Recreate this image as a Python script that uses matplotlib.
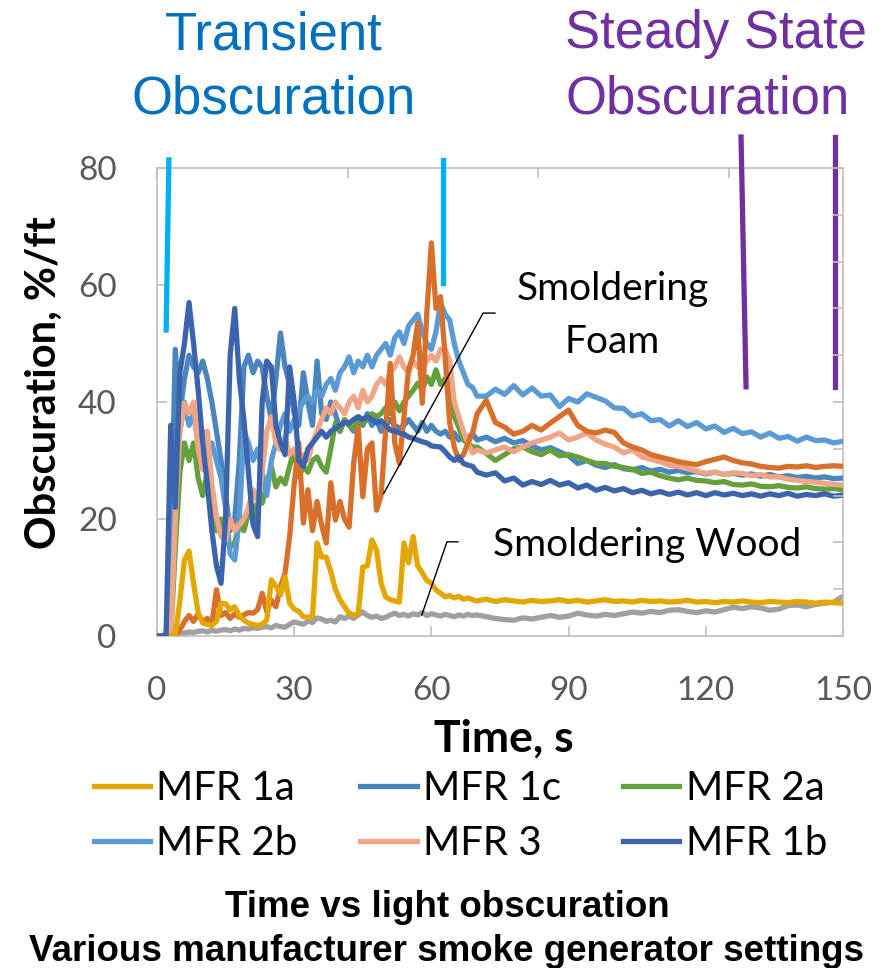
import matplotlib
matplotlib.use('agg')
import matplotlib.pyplot as plt
from matplotlib.lines import Line2D

# sample times, s (1 s steps during the transient part, 2 s after)
time_s = list(range(0, 71)) + list(range(72, 151, 2))

mfr_1a = [0, 0, 0, 0, 0.2, 6, 13, 14.5, 9, 4,
          2.2, 2, 1.8, 2.5, 5.6, 5.5, 4.5, 5, 3.5, 2.7,
          2.2, 2, 1.8, 2, 2.7, 9.6, 8.5, 7, 10.1, 5.6,
          4.6, 4.2, 3.3, 3.2, 3.4, 15.9, 13.5, 13.5, 11, 8,
          6.2, 5, 3.9, 3.6, 3.8, 11.8, 12, 16.4, 14.7, 9,
          6.7, 6.2, 6, 5.8, 15.9, 12.5, 17, 12, 10.8, 9.5,
          9, 7.9, 7.3, 6.7, 6.9, 6.5, 6.8, 6.3, 6.5, 6.2,
          6.0,
          6.3, 5.9, 6.2, 6.0, 5.8, 6.1, 5.9, 6.0, 6.2, 5.9,
          6.1, 5.8, 6.0, 6.2, 5.9, 6.0, 5.8, 6.1, 5.9, 6.0,
          5.8, 5.9, 6.1, 5.8, 5.9, 5.7, 5.9, 5.8, 6.0, 5.8,
          5.7, 5.9, 5.8, 5.7, 5.9, 5.8, 5.6, 5.8, 5.7, 5.6]

mfr_1c = [0, 0, 0, 15, 49, 38, 44, 48, 46, 45,
          47, 44, 40, 35, 30, 24, 18, 20, 30, 46,
          48, 45, 47, 46, 41, 37, 44, 51.8, 46, 43,
          38, 36, 45, 40, 36, 47, 38, 37, 40, 38,
          35, 37, 36, 35, 37, 36, 38, 36, 37, 35,
          36, 37, 36, 35.5, 36, 37, 36, 35, 36.5, 35,
          36, 35, 34.5, 35, 34, 34.7, 33.5, 34.5, 33.8, 34.6,
          33.5,
          34.0, 33.2, 33.8, 33.0, 33.4, 32.5, 31.8, 32.2, 31.5, 30.8,
          29.5, 30.0, 29.2, 28.8, 29.3, 28.6, 28.4, 28.8, 28.2, 28.5,
          28.0, 28.3, 27.9, 28.1, 27.7, 28.0, 27.6, 27.8, 27.5, 27.7,
          27.3, 27.6, 27.2, 27.4, 27.1, 27.3, 27.0, 27.2, 26.9, 27.0]

mfr_2a = [0, 0, 0, 0, 15, 28, 33, 30, 33, 27,
          24, 28, 22, 18, 20, 17, 15.2, 16, 19, 18,
          21, 20, 23, 22.7, 26, 29, 25.5, 27, 26, 29,
          31.8, 27.2, 29, 28, 30, 30.6, 29, 28, 32, 36.4,
          35, 37, 36, 35.5, 37, 36.4, 37, 38, 37.5, 38,
          39, 38, 40, 38.5, 40, 41, 42, 43.2, 42, 44.3,
          43, 45.5, 43, 44, 42.6, 37.5, 35.7, 33.5, 33, 32.3,
          32.3,
          31.2, 30.0, 31.0, 32.0, 32.3, 31.5, 31.0, 31.8, 30.8, 31.0,
          30.6, 30.0, 29.5, 29.5, 29.0, 28.8, 28.5, 27.8, 28.0, 27.4,
          27.0, 26.7, 27.0, 26.6, 26.5, 26.2, 26.4, 25.9, 25.8, 26.0,
          25.6, 25.5, 25.7, 25.4, 25.3, 25.5, 25.2, 25.1, 25.2, 25.0]

mfr_2b = [0, 0, 0, 10, 30, 35, 40, 36, 38, 33,
          35, 31, 33, 30, 27, 22, 14, 13, 20, 35,
          33, 30, 32, 28, 24, 30, 33, 36, 38, 35,
          37, 38.6, 40, 41, 40, 42, 41, 43, 44, 42,
          45, 46, 47.7, 45, 47, 46, 48, 46, 48, 49,
          50, 48, 51, 52, 50, 53, 54, 55, 52, 50,
          49, 52, 57, 55, 54, 50, 47, 45, 43, 42.5,
          41,
          41, 42.2, 41.3, 42.8, 41.2, 42.4, 41.0, 41.2, 39.2, 40.6,
          40.0, 41.4, 40.8, 40.2, 39.0, 38.9, 37.6, 38.0, 36.8, 37.0,
          35.9, 36.8, 35.8, 36.5, 35.4, 35.9, 34.8, 35.5, 34.6, 34.9,
          34.0, 34.7, 33.8, 34.1, 33.3, 34.0, 33.4, 33.5, 33.0, 33.3]

mfr_3 = [0, 0, 0, 0, 20, 35, 39.8, 38, 40, 32,
         28.4, 35, 26, 20.3, 17, 16.4, 20, 18, 19, 20,
         22, 25, 23, 28, 35, 37.5, 33, 31.8, 34, 31,
         32, 29.5, 31, 30, 33, 35, 37, 39, 38, 40,
         39, 38, 40, 41, 39, 42, 40, 41, 43, 44,
         43, 45, 46, 47.7, 46, 45, 47, 46, 45.5, 47,
         48, 47, 49, 49, 47, 40, 37.5, 35, 33, 31.3,
         31.8,
         31.3, 31.8, 32.3, 31.5, 32.3, 33.0, 33.5, 34.0, 34.7, 33.5,
         34.0, 34.7, 33.5, 32.8, 32.3, 31.3, 31.8, 30.6, 30.2, 29.8,
         29.2, 29.0, 28.6, 28.2, 27.8, 28.0, 27.6, 27.9, 27.8, 27.4,
         27.6, 27.2, 27.2, 26.8, 26.6, 26.4, 26.3, 26.1, 25.9, 25.8]

mfr_1b = [0, 0, 0.3, 36, 22, 45, 50, 57, 50, 42,
          33, 26, 18, 12, 9, 20, 48, 56, 44, 37,
          28, 19, 17, 40, 47, 46, 36, 33, 31, 46,
          40, 30, 29, 32, 33, 34, 35, 34, 35, 35.5,
          36, 36.5, 36.4, 37, 37.5, 37, 37.5, 37, 36.5, 36.8,
          36, 35.2, 35, 34.7, 34.5, 34, 33.8, 33.5, 33.2, 33,
          32.5, 32.4, 32.3, 31.5, 30.6, 30, 30.6, 29.5, 29.2, 29,
          28,
          27.5, 27.9, 26.5, 27.0, 25.8, 26.4, 25.9, 26.6, 25.8, 26.2,
          25.3, 25.8, 24.9, 25.4, 24.8, 25.2, 24.5, 24.9, 24.3, 24.7,
          24.2, 24.6, 24.1, 24.5, 24.0, 24.5, 24.1, 24.4, 24.0, 24.3,
          23.9, 24.3, 24.0, 24.4, 23.9, 24.2, 24.0, 24.3, 23.9, 24.1]

# reference runs (not in the legend)
smoldering_foam = [0, 0, 0, 0, 0, 1.0, 2.5, 3.5, 2.5, 3.8,
                   2.5, 3.0, 2.0, 7.9, 3.5, 4.0, 3.0, 3.8, 3.2, 3.6,
                   4.0, 3.9, 4.5, 7.3, 4.2, 6.1, 5.0, 8.4, 10.8, 17.0,
                   26.0, 33.0, 19.3, 25.0, 18.0, 23.0, 19.0, 15.9, 26.2, 19.8,
                   23.0, 20.0, 18.6, 29.5, 35.7, 23.8, 32.0, 33.0, 21.5, 24.0,
                   35.2, 46.6, 33.0, 29.5, 37.5, 45.5, 48.0, 53.5, 39.8, 55.2,
                   67.2, 56.0, 58.0, 47.7, 36.4, 32.3, 30.0, 31.0, 33.0, 34.7,
                   38.0,
                   40.3, 36.5, 35.7, 34.5, 35.0, 36.0, 35.2, 36.4, 37.5, 38.6,
                   36.0, 35.0, 34.7, 35.2, 34.8, 33.0, 32.3, 31.8, 31.0, 30.6,
                   30.2, 29.8, 29.5, 29.3, 29.8, 30.2, 30.6, 30.0, 29.6, 29.4,
                   29.0, 28.8, 28.7, 29.0, 28.9, 29.1, 28.8, 29.0, 29.1, 29.0]

smoldering_wood = [0, 0, 0, 0, 0, 0.2, 0.5, 0.7, 0.6, 0.8,
                   0.9, 0.7, 1.0, 0.8, 1.0, 1.1, 0.9, 1.2, 1.0, 1.3,
                   1.2, 1.4, 1.3, 1.5, 1.6, 1.4, 1.8, 1.6, 1.5, 2.0,
                   2.4, 2.2, 2.0, 2.6, 2.3, 3.1, 2.9, 2.5, 2.7, 2.4,
                   3.3, 3.0, 3.4, 3.0, 3.6, 4.1, 3.5, 3.2, 3.4, 3.0,
                   3.2, 3.6, 3.9, 3.5, 3.7, 3.4, 3.8, 3.6, 4.0, 3.5,
                   3.8, 3.6, 3.4, 3.7, 3.5, 3.3, 3.6, 3.4, 3.7, 3.5,
                   3.6,
                   3.3, 3.0, 2.8, 2.7, 3.1, 2.9, 3.2, 3.5, 3.2, 3.4,
                   3.9, 3.6, 3.4, 3.7, 3.5, 3.8, 4.1, 3.9, 4.2, 4.0,
                   4.4, 4.5, 4.2, 4.0, 4.3, 4.1, 4.5, 4.9, 4.7, 5.0,
                   4.8, 4.4, 4.6, 5.2, 5.3, 5.0, 5.4, 5.6, 5.8, 6.8]

x_ticks = [0, 30, 60, 90, 120, 150]
y_ticks = [0, 20, 40, 60, 80]

GRID = '#BFBFBF'
TICK_TXT = '#595959'
LW = 3.8


def fx(px):
    return px / 887.0


def fy(py):
    return 1 - py / 968.0


fig = plt.figure(figsize=(8.87, 9.68), dpi=100)
ax = fig.add_axes([fx(157), fy(636), fx(843) - fx(157), fy(168) - fy(636)])

ax.plot(time_s, smoldering_wood, color='#A0A0A0', lw=LW, zorder=2)
ax.plot(time_s, mfr_1c, color='#4A85BF', lw=LW, zorder=3)
ax.plot(time_s, mfr_2a, color='#64A03C', lw=LW, zorder=3)
ax.plot(time_s, mfr_2b, color='#5B9BD5', lw=LW, zorder=3)
ax.plot(time_s, mfr_3, color='#F0A586', lw=LW, zorder=3)
ax.plot(time_s, smoldering_foam, color='#D86F2B', lw=LW, zorder=4)
ax.plot(time_s, mfr_1a, color='#E4A600', lw=LW, zorder=5)
ax.plot(time_s, mfr_1b, color='#3B64AD', lw=LW, zorder=6)

ax.set_xlim(0, 150)
ax.set_ylim(0, 80)
ax.set_xticks(x_ticks)
ax.set_yticks(y_ticks)
for s in ax.spines.values():
    s.set_color(GRID)
    s.set_linewidth(1.2)
ax.tick_params(direction='in', length=7, width=1.2, color=GRID,
               labelsize=24, labelcolor=TICK_TXT, pad=29)
for lab in ax.get_xticklabels() + ax.get_yticklabels():
    lab.set_family('Lato')

# secondary axes ticks (no labels)
ax_r = ax.twinx()
ax_r.set_ylim(0, 100)
ax_r.set_yticks(range(0, 101, 10))
ax_r.tick_params(direction='in', length=7, width=1.2, color=GRID, labelright=False)
ax_t = ax.twiny()
ax_t.set_xlim(0, 180)
ax_t.set_xticks([0, 50, 100, 150])
ax_t.tick_params(direction='in', length=7, width=1.2, color=GRID, labeltop=False)
for a in (ax_r, ax_t):
    for s in a.spines.values():
        s.set_visible(False)

# phase markers
ax.add_line(Line2D([2.6, 2.0], [81.4, 52.3], color='#00B0F0', lw=3.8, clip_on=False, zorder=7))
ax.add_line(Line2D([62.5, 62.5], [81.4, 60.3], color='#00B0F0', lw=3.8, clip_on=False, zorder=7))
ax.add_line(Line2D([127.7, 128.8], [85.3, 42.6], color='#7030A0', lw=3.8, clip_on=False, zorder=7))
ax.add_line(Line2D([148.2, 148.2], [85.3, 42.6], color='#7030A0', lw=3.8, clip_on=False, zorder=7))

# leader lines
ax.add_line(Line2D([49.6, 71.3, 73.9], [24.4, 55.2, 55.2], color='black', lw=1.0, zorder=8))
ax.add_line(Line2D([57.9, 63.4, 65.8], [3.6, 16.1, 16.1], color='black', lw=1.0, zorder=8))

fig.text(fx(613), fy(300), 'Smoldering', ha='center', va='baseline', fontsize=28, family='Lato')
fig.text(fx(612), fy(353), 'Foam', ha='center', va='baseline', fontsize=28, family='Lato')
fig.text(fx(647), fy(556), 'Smoldering Wood', ha='center', va='baseline', fontsize=28, family='Lato')

fig.text(fx(274), fy(50), 'Transient', ha='center', va='baseline', fontsize=38,
         color='#0070C0', family='Liberation Sans')
fig.text(fx(274), fy(113), 'Obscuration', ha='center', va='baseline', fontsize=38,
         color='#0070C0', family='Liberation Sans')
fig.text(fx(565), fy(48), 'Steady State', ha='left', va='baseline', fontsize=38,
         color='#7030A0', family='Liberation Sans')
fig.text(fx(565), fy(113), 'Obscuration', ha='left', va='baseline', fontsize=38,
         color='#7030A0', family='Liberation Sans')

fig.text(fx(504), fy(752), 'Time, s', ha='center', va='baseline', fontsize=32,
         fontweight='bold', family='Lato')
fig.text(fx(44), fy(383), 'Obscuration, %/ft', ha='center', va='center', rotation=90,
         fontsize=30, fontweight='bold', family='Lato')

handles = [Line2D([], [], color='#E4A600', lw=LW), Line2D([], [], color='#5B9BD5', lw=LW),
           Line2D([], [], color='#4A85BF', lw=LW), Line2D([], [], color='#F0A586', lw=LW),
           Line2D([], [], color='#64A03C', lw=LW), Line2D([], [], color='#3B64AD', lw=LW)]
labels = ['MFR 1a', 'MFR 2b', 'MFR 1c', 'MFR 3', 'MFR 2a', 'MFR 1b']
fig.legend(handles, labels, ncol=3, loc='upper left', bbox_to_anchor=(fx(94), fy(770)),
           frameon=False, borderpad=0, borderaxespad=0, handlelength=1.4,
           handletextpad=0.15, columnspacing=1.55, labelspacing=0.45,
           prop={'family': 'Lato', 'size': 29})

fig.text(fx(447), fy(917), 'Time vs light obscuration', ha='center', va='baseline',
         fontsize=26.5, fontweight='bold', family='Liberation Sans')
fig.text(fx(447), fy(961), 'Various manufacturer smoke generator settings', ha='center',
         va='baseline', fontsize=26.5, fontweight='bold', family='Liberation Sans')

fig.savefig('out.png', dpi=100)
